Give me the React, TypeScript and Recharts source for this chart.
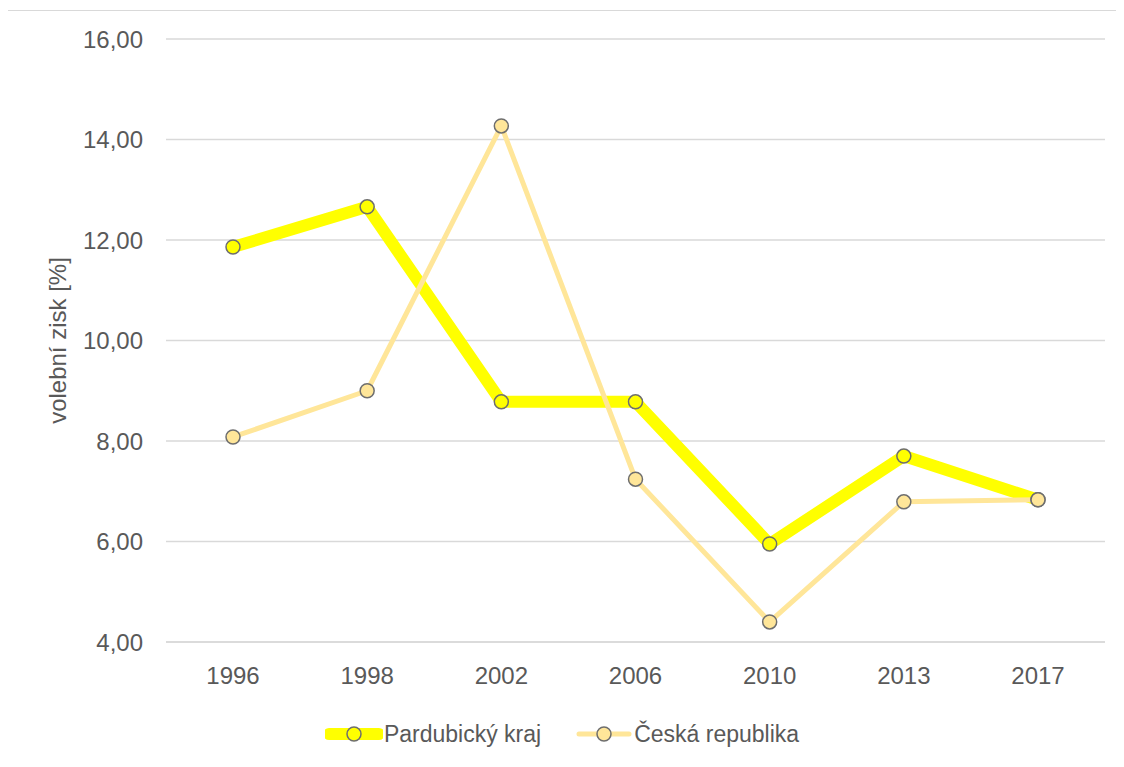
import { LineChart, Line, XAxis, YAxis, CartesianGrid, Legend } from "recharts";

// volební zisk [%] podle roku voleb
const years = ["1996", "1998", "2002", "2006", "2010", "2013", "2017"];
const pardubickyKraj = [11.86, 12.66, 8.78, 8.78, 5.95, 7.7, 6.83];
const ceskaRepublika = [8.08, 9.0, 14.27, 7.24, 4.4, 6.79, 6.83];
const yTicks = [4, 6, 8, 10, 12, 14, 16];

const data = years.map((year, i) => ({
  year,
  pardubice: pardubickyKraj[i],
  cr: ceskaRepublika[i],
}));

const FONT = "'Liberation Sans', Arial, sans-serif";
const TEXT = "#595959";
const GRID = "#d9d9d9";
const DOT_STROKE = "#6e6e6e";

const series = [
  { key: "pardubice", name: "Pardubický kraj", color: "#ffff00", width: 12 },
  { key: "cr", name: "Česká republika", color: "#ffe699", width: 5 },
];

function LegendContent() {
  return (
    <div
      style={{
        display: "flex",
        justifyContent: "center",
        gap: 34,
        height: 30,
        fontFamily: FONT,
        fontSize: 23,
        color: TEXT,
      }}
    >
      {series.map((s) => (
        <div key={s.key} style={{ display: "flex", alignItems: "center" }}>
          <svg width={58} height={24}>
            <line
              x1={4}
              x2={54}
              y1={12}
              y2={12}
              stroke={s.color}
              strokeWidth={s.width}
              strokeLinecap="round"
            />
            <circle cx={29} cy={12} r={7} fill={s.color} stroke={DOT_STROKE} strokeWidth={1.5} />
          </svg>
          <span style={{ marginLeft: 1 }}>{s.name}</span>
        </div>
      ))}
    </div>
  );
}

export default function App() {
  return (
    <div
      style={{
        position: "relative",
        left: -1,
        top: 2,
        width: 1140,
        height: 780,
        borderTop: `1.5px solid ${GRID}`,
        borderLeft: `1.5px solid ${GRID}`,
        background: "#fff",
      }}
    >
      <LineChart
        width={1120}
        height={760}
        data={data}
        margin={{ top: 28, right: 23, bottom: 0, left: 0 }}
      >
        <CartesianGrid vertical={false} stroke={GRID} strokeWidth={1.5} />
        <XAxis
          dataKey="year"
          padding={{ left: 67, right: 67 }}
          axisLine={{ stroke: GRID, strokeWidth: 1.5 }}
          tickLine={false}
          tickSize={0}
          tickMargin={25}
          height={99}
          tick={{ fill: TEXT, fontSize: 24, fontFamily: FONT }}
        />
        <YAxis
          domain={[4, 16]}
          ticks={yTicks}
          interval={0}
          width={158}
          axisLine={false}
          tickLine={false}
          tickSize={0}
          tickMargin={23}
          tickFormatter={(v: number) => v.toFixed(2).replace(".", ",")}
          tick={{ fill: TEXT, fontSize: 24, fontFamily: FONT }}
          label={{
            value: "volební zisk [%]",
            angle: -90,
            position: "center",
            dx: -30,
            style: { fill: TEXT, fontSize: 24, fontFamily: FONT },
          }}
        />
        <Legend
          content={<LegendContent />}
          wrapperStyle={{ top: 708, left: -6, width: 1120 }}
        />
        {series.map((s) => (
          <Line
            key={s.key}
            type="linear"
            dataKey={s.key}
            name={s.name}
            stroke={s.color}
            strokeWidth={s.width}
            strokeLinejoin="round"
            dot={{ r: 7, fill: s.color, stroke: DOT_STROKE, strokeWidth: 1.5 }}
            activeDot={false}
            isAnimationActive={false}
          />
        ))}
      </LineChart>
    </div>
  );
}
